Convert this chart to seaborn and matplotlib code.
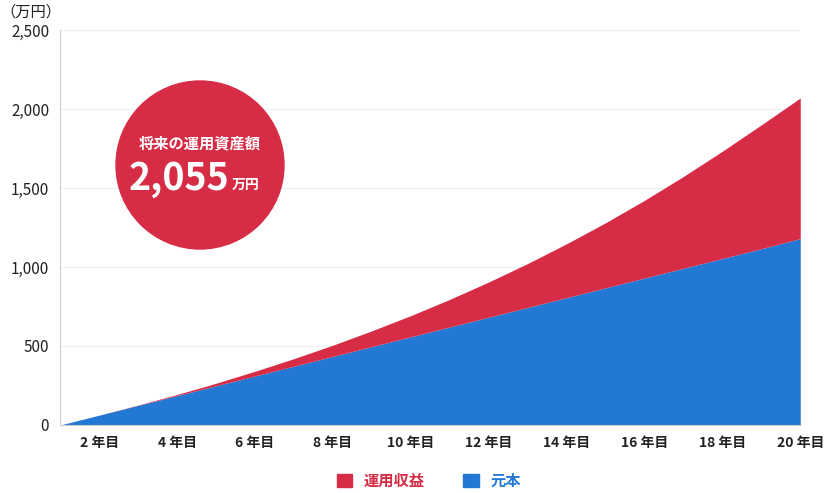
import matplotlib
matplotlib.use("Agg")
import matplotlib.pyplot as plt
import seaborn as sns
from matplotlib.patches import Circle, Patch
from matplotlib.transforms import IdentityTransform

years = list(range(1, 21))
principal = [0, 62, 124, 186, 248, 310, 372, 434, 496, 558, 620, 682, 744, 806, 868, 930, 992, 1054, 1116, 1180]
total = [0, 62, 126, 193, 264, 340, 420, 505, 596, 692, 795, 905, 1022, 1147, 1280, 1422, 1573, 1733, 1900, 2070]
profit = [t - p for t, p in zip(total, principal)]
xticks = [2, 4, 6, 8, 10, 12, 14, 16, 18, 20]
xlabels = [f"{y} 年目" for y in xticks]
series_names = ["運用収益", "元本"]
RED = "#d72c45"
BLUE = "#2278d2"

sns.set_style("white")
plt.rcParams['font.family'] = ['Noto Sans CJK JP', 'DejaVu Sans']

fig = plt.figure(figsize=(8.25, 4.93), dpi=100)
ax = fig.add_axes([0.073, 0.138, 0.897, 0.801])
ax.stackplot(years, principal, profit, colors=[BLUE, RED], linewidth=0)
ax.set_xlim(1, 20)
ax.set_ylim(0, 2500)
ax.set_yticks([0, 500, 1000, 1500, 2000, 2500])
ax.set_yticklabels(["0", "500", "1,000", "1,500", "2,000", "2,500"], fontsize=11, color="#222")
ax.set_xticks(xticks)
ax.set_xticklabels(xlabels, fontsize=10, fontweight="bold", color="#222")
ax.tick_params(axis="both", length=0, pad=8)
ax.grid(axis="y", color="#eeeeee", linewidth=0.8)
ax.set_axisbelow(True)
for s in ["top", "right"]:
    ax.spines[s].set_visible(False)
ax.spines["left"].set_color("#cccccc")
ax.spines["bottom"].set_color("#cccccc")
fig.text(0.0, 0.975, "（万円）", fontsize=11, color="#222", ha="left", va="center")

idt = IdentityTransform()
fig.patches.append(Circle((200, 493 - 165), 84, transform=idt, color=RED, zorder=5))
fig.text(200, 493 - 143, "将来の運用資産額", transform=idt, ha="center", va="center",
         color="white", fontsize=11, fontweight="bold", zorder=6)
fig.text(179, 493 - 178, "2,055", transform=idt, ha="center", va="center",
         color="white", fontsize=27, fontweight="bold", zorder=6)
fig.text(232, 493 - 185, "万円", transform=idt, ha="left", va="center",
         color="white", fontsize=10, fontweight="bold", zorder=6)

handles = [Patch(color=RED, label=series_names[0]), Patch(color=BLUE, label=series_names[1])]
fig.legend(handles=handles, loc="center", bbox_to_anchor=(0.52, 0.025), ncol=2, frameon=False,
           handlelength=1, handleheight=1, columnspacing=2.5,
           labelcolor=[RED, BLUE], prop={'weight': 'bold', 'size': 11})
fig.savefig("out.png", dpi=100)
